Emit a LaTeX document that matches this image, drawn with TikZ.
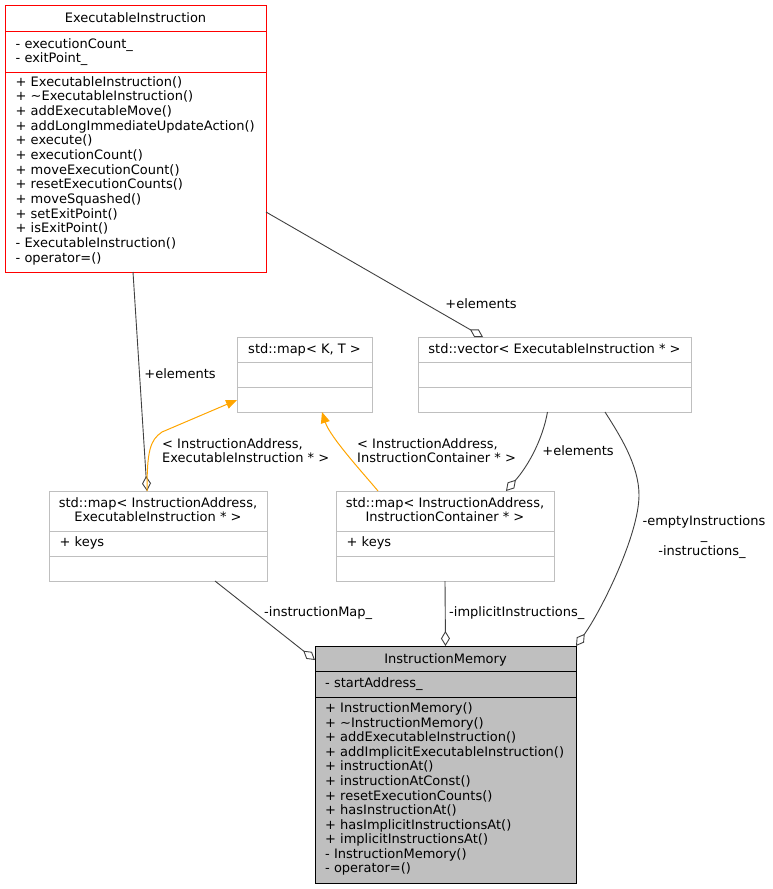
\documentclass[tikz,border=0pt]{standalone}
\usepackage{fontspec}
\setmainfont{DejaVu Sans}
\usetikzlibrary{arrows.meta}
\definecolor{boxgray}{HTML}{BFBFBF}
\definecolor{edgegray}{HTML}{404040}
\definecolor{inhorange}{HTML}{FFA500}

\begin{document}
\begin{tikzpicture}[x=1pt,y=-1pt,font=\fontsize{13}{14.5}\selectfont,
    cls/.style={draw=boxgray,fill=white,line width=1pt,inner sep=0pt,outer sep=0pt,anchor=north west},
    sep/.style={boxgray,line width=1pt},
    mem/.style={anchor=base west,inner sep=0pt},
    ttl/.style={anchor=base,inner sep=0pt,align=center},
    elab/.style={anchor=base,inner sep=0pt},
    aggr/.style={edgegray,line width=0.9pt,-{Diamond[open,length=15pt,width=9pt]}},
    inh/.style={inhorange,line width=1pt,-{Triangle[length=11pt,width=9pt]}}]
        \useasboundingbox (0,0) rectangle (772,889);
        % ExecutableInstruction
        \node[cls,draw=red,minimum width=261pt,minimum height=267pt] (EI) at (5,5) {};
        \draw[red,line width=1pt] ([shift={(0,26)}]EI.north west) -- ([shift={(0,26)}]EI.north east);
        \draw[red,line width=1pt] ([shift={(0,67)}]EI.north west) -- ([shift={(0,67)}]EI.north east);
        \node[ttl] (EI-name) at ([shift={(130.5,17.5)}]EI.north west) {ExecutableInstruction};
        \foreach \X [count=\Y] in {- executionCount\_,- exitPoint\_}
            \node[mem] (EI-a\Y) at ([shift={(10.5,{43+(\Y-1)*14.5})}]EI.north west) {\X};
        \foreach \X [count=\Y] in
            {+ ExecutableInstruction(),+ \textasciitilde{}ExecutableInstruction(),
             + addExecutableMove(),+ addLongImmediateUpdateAction(),+ execute(),
             + executionCount(),+ moveExecutionCount(),+ resetExecutionCounts(),
             + moveSquashed(),+ setExitPoint(),+ isExitPoint(),
             - ExecutableInstruction(),- operator=()}
            \node[mem] (EI-m\Y) at ([shift={(10.5,{81+(\Y-1)*14.67})}]EI.north west) {\X};
        % std::map< K, T >
        \node[cls,minimum width=135pt,minimum height=75pt] (mapKT) at (237,337) {};
        \foreach \Y in {25,50}
            \draw[sep] ([shift={(0,\Y)}]mapKT.north west) -- ([shift={(0,\Y)}]mapKT.north east);
        \node[ttl] (mapKT-name) at ([shift={(67.5,16.5)}]mapKT.north west) {std::map< K, T >};
        % std::vector< ExecutableInstruction * >
        \node[cls,minimum width=273pt,minimum height=75pt] (vec) at (418,337) {};
        \foreach \Y in {25,50}
            \draw[sep] ([shift={(0,\Y)}]vec.north west) -- ([shift={(0,\Y)}]vec.north east);
        \node[ttl] (vec-name) at ([shift={(136.5,16.5)}]vec.north west) {std::vector< ExecutableInstruction * >};
        % the two maps
        \foreach \N/\P/\V in {mapEI/49/ExecutableInstruction,mapIC/336/InstructionContainer}{
            \node[cls,minimum width=218pt,minimum height=90pt] (\N) at (\P,491) {};
            \foreach \Y in {40,65}
                \draw[sep] ([shift={(0,\Y)}]\N.north west) -- ([shift={(0,\Y)}]\N.north east);
            \node[ttl] (\N-name1) at ([shift={(109,16.3)}]\N.north west) {std::map< InstructionAddress,};
            \node[ttl] (\N-name2) at ([shift={(109,30.7)}]\N.north west) {\V{} * >};
            \node[mem] (\N-a1) at ([shift={(10.5,55.7)}]\N.north west) {+ keys};
        }
        % InstructionMemory
        \node[cls,draw=black,fill=boxgray,minimum width=261pt,minimum height=237pt] (IM) at (315,646) {};
        \draw[black,line width=1pt] ([shift={(0,25)}]IM.north west) -- ([shift={(0,25)}]IM.north east);
        \draw[black,line width=1pt] ([shift={(0,51)}]IM.north west) -- ([shift={(0,51)}]IM.north east);
        \node[ttl] (IM-name) at ([shift={(130.5,17)}]IM.north west) {InstructionMemory};
        \node[mem] (IM-a1) at ([shift={(10,41)}]IM.north west) {- startAddress\_};
        \foreach \X [count=\Y] in
            {+ InstructionMemory(),+ \textasciitilde{}InstructionMemory(),
             + addExecutableInstruction(),+ addImplicitExecutableInstruction(),
             + instructionAt(),+ instructionAtConst(),+ resetExecutionCounts(),
             + hasInstructionAt(),+ hasImplicitInstructionsAt(),
             + implicitInstructionsAt(),- InstructionMemory(),- operator=()}
            \node[mem] (IM-m\Y) at ([shift={(10,{66.7+(\Y-1)*14.57})}]IM.north west) {\X};
        % aggregation
        \draw[aggr] ([xshift=-2.5pt]EI.south) -- ([xshift=-11pt]mapEI.north);
        \node[elab] (el-1) at (180,378) {+elements};
        \draw[aggr] ([shift={(0,207)}]EI.north east) -- ([xshift=-71.5pt]vec.north);
        \node[elab] (el-2) at (481,308) {+elements};
        \draw[aggr] ([xshift=-7pt]vec.south) .. controls +(-5,28) and +(22,-25) .. ([xshift=61pt]mapIC.north);
        \node[elab] (el-3) at (578,455) {+elements};
        \draw[aggr] ([xshift=50.5pt]vec.south) .. controls +(14,22) and +(0,-30) .. (639,495)
            .. controls +(0,40) and +(25,-35) .. (IM.north east);
        \node[ttl] (el-empty) at (704,539.5) {-emptyInstructions\\\_};
        \node[elab] (el-instr) at (702,555) {-instructions\_};
        \draw[aggr] ([xshift=57pt]mapEI.south) -- ([shift={(0,14)}]IM.north west);
        \node[mem] (el-map) at (264,616) {-instructionMap\_};
        \draw[aggr] (mapIC.south) -- (IM.north);
        \node[mem] (el-impl) at (449,616.7) {-implicitInstructions\_};
        % inheritance
        \draw[inh] ([xshift=-11pt]mapEI.north) .. controls +(0,-40) and +(-12,8) .. (162,432)
            -- ([shift={(0,-12)}]mapKT.south west);
        \node[mem,align=left] (tpl-1) at (162,462.7) {< InstructionAddress,\\ExecutableInstruction * >};
        \draw[inh] ([xshift=-67pt]mapIC.north) .. controls +(-15,-18) and +(8,25) .. ([xshift=17.5pt]mapKT.south);
        \node[mem,align=left] (tpl-2) at (357,462.7) {< InstructionAddress,\\InstructionContainer * >};
\end{tikzpicture}
\end{document}
